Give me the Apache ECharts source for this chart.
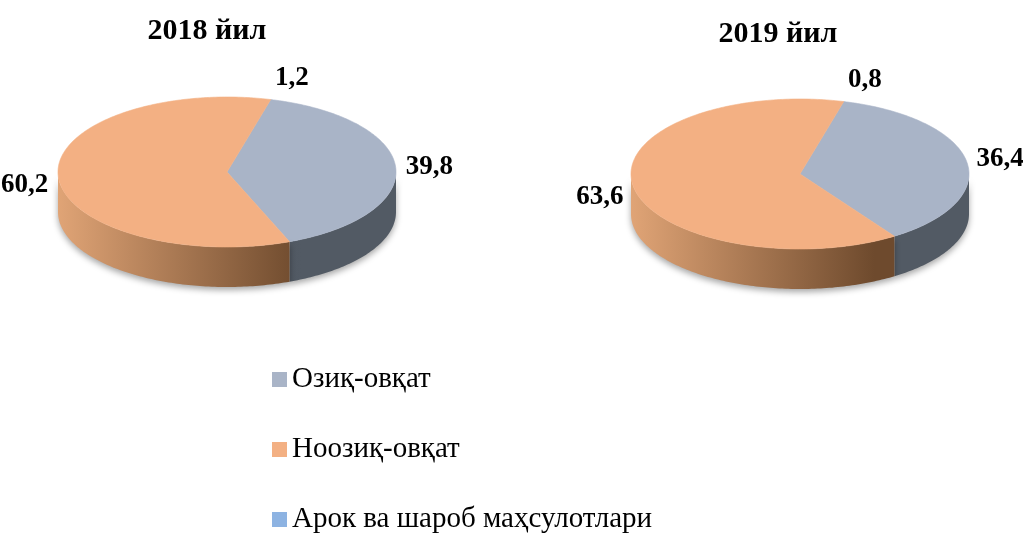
<!DOCTYPE html>
<html>
<head>
<meta charset="utf-8">
<script src="https://cdn.jsdelivr.net/npm/echarts@6/dist/echarts.min.js"></script>
<style>
  html, body { margin: 0; padding: 0; background: #fff; }
  #chart { width: 1023px; height: 533px; }
</style>
</head>
<body>
<div id="chart"></div>
<script>
const years = ['2018 йил', '2019 йил']
const categories = ['Озиқ-овқат', 'Ноозиқ-овқат', 'Арок ва шароб маҳсулотлари']
const foodValues = [39.8, 36.4]
const nonFoodValues = [60.2, 63.6]
const alcoholValues = [1.2, 0.8]

const seriesValues = [foodValues, nonFoodValues, alcoholValues]
const topColors = ['#a9b4c7', '#f3b083', '#8db3e2']
const sideColors = [
  ['#3e444c', '#525a64'],
  ['#e0a476', '#6e4a2d'],
  ['#5a7aa3', '#3c5a80'],
]

// pie geometry (fake 3d: flattened ellipse + wall)
const centers = [[227, 172], [800, 174]]
const rx = 169
const ry = 75
const depth = 40
const startDeg = 15

function pt(cx, cy, deg, dy) {
  const r = (deg * Math.PI) / 180
  return [cx + rx * Math.sin(r), cy - ry * Math.cos(r) + (dy || 0)]
}

function arc(cx, cy, a0, a1, dy) {
  const pts = []
  const n = Math.max(2, Math.ceil(Math.abs(a1 - a0)))
  for (let i = 0; i <= n; i++) pts.push(pt(cx, cy, a0 + ((a1 - a0) * i) / n, dy))
  return pts
}

function renderSlice(params, api) {
  const c = params.seriesIndex
  const y = params.dataIndex
  const vals = seriesValues.map((s) => s[y])
  // food + non-food make the whole pie (alcohol is a share inside food, no own slice in the picture)
  const total = vals[0] + vals[1]
  const [cx, cy] = centers[y]
  const children = []
  let a0 = startDeg
  let a1 = startDeg
  if (c < 2) {
    for (let k = 0; k < c; k++) a0 += (vals[k] / total) * 360
    a1 = a0 + (vals[c] / total) * 360

    // visible wall = part of the slice on the front half
    ;[[90, 270], [450, 630]].forEach(([w0, w1]) => {
      const s = Math.max(a0, w0)
      const e = Math.min(a1, w1)
      if (s >= e) return
      const pts = arc(cx, cy, s, e, 0).concat(arc(cx, cy, e, s, depth))
      children.push({
        type: 'polygon',
        shape: { points: pts },
        style: {
          fill: {
            type: 'linear', x: cx - rx, y: 0, x2: cx + rx, y2: 0, global: true,
            colorStops: [
              { offset: 0, color: sideColors[c][0] },
              { offset: 0.72, color: sideColors[c][1] },
            ],
          },
          shadowBlur: 6,
          shadowOffsetY: 3,
          shadowColor: 'rgba(0,0,0,0.35)',
        },
      })
    })

    children.push({
      type: 'polygon',
      shape: { points: [[cx, cy]].concat(arc(cx, cy, a0, a1, 0)) },
      style: { fill: topColors[c], stroke: topColors[c], lineWidth: 0.6 },
    })
  }

  const mid = (((a0 + a1) / 2) * Math.PI) / 180
  const sn = Math.sin(mid)
  const cs = Math.cos(mid)
  let ly = cy - (ry + 18) * cs
  if (cs < 0) ly += depth * 0.2
  if (c === 2) ly -= 4
  const lx = cx + (rx + (c === 2 ? 16 : 10)) * sn
  children.push({
    type: 'text',
    style: {
      text: String(vals[c]).replace('.', ','),
      x: lx,
      y: ly,
      align: sn > 0.1 ? 'left' : sn < -0.1 ? 'right' : 'center',
      verticalAlign: 'middle',
      font: 'bold 27px "Liberation Serif"',
      fill: '#000',
    },
  })

  return { type: 'group', children }
}

const chart = echarts.init(document.getElementById('chart'))

chart.setOption({
  animation: false,
  title: years.map((t, i) => ({
    text: t,
    left: i === 0 ? 207 : 778,
    top: i === 0 ? 16 : 19,
    textAlign: 'center',
    padding: 0,
    textStyle: {
      fontFamily: 'Liberation Serif',
      fontWeight: 'bold',
      fontSize: 30,
      color: '#000',
    },
  })),
  legend: {
    orient: 'vertical',
    left: 272,
    top: 365,
    height: 240,
    padding: 0,
    icon: 'rect',
    itemWidth: 15,
    itemHeight: 15,
    itemGap: 41,
    data: categories,
    textStyle: {
      fontFamily: 'Liberation Serif',
      fontSize: 29,
      color: '#000',
    },
  },
  series: categories.map((name, i) => ({
    type: 'custom',
    name,
    coordinateSystem: 'none',
    data: seriesValues[i],
    itemStyle: { color: topColors[i] },
    renderItem: renderSlice,
  })),
})
</script>
</body>
</html>
